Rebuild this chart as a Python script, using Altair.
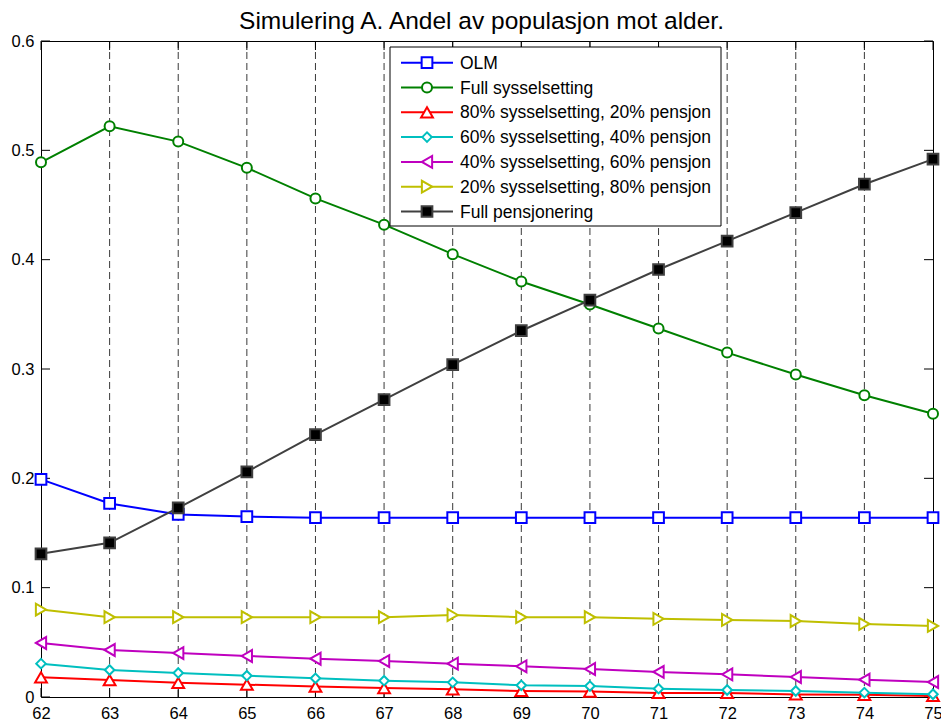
import altair as alt
import pandas as pd

# Age axis
ages = list(range(62, 76))

# Share of population per scenario, by age
olm = [0.199, 0.177, 0.167, 0.165, 0.164, 0.164, 0.164, 0.164, 0.164, 0.164, 0.164, 0.164, 0.164, 0.164]
full_syss = [0.489, 0.522, 0.508, 0.484, 0.456, 0.432, 0.405, 0.380, 0.359, 0.337, 0.315, 0.295, 0.276, 0.259]
s80_p20 = [0.018, 0.0155, 0.013, 0.0113, 0.0095, 0.0082, 0.007, 0.0055, 0.005, 0.0037, 0.0037, 0.0023, 0.002, 0.001]
s60_p40 = [0.0305, 0.0247, 0.022, 0.0195, 0.0171, 0.0149, 0.0134, 0.0107, 0.010, 0.0076, 0.0064, 0.0055, 0.004, 0.0025]
s40_p60 = [0.0494, 0.043, 0.0402, 0.0375, 0.035, 0.0329, 0.0305, 0.0281, 0.0256, 0.0229, 0.0207, 0.0183, 0.0158, 0.0137]
s20_p80 = [0.080, 0.073, 0.073, 0.073, 0.073, 0.073, 0.075, 0.073, 0.073, 0.0715, 0.0705, 0.0695, 0.0668, 0.065]
full_pens = [0.131, 0.141, 0.173, 0.206, 0.240, 0.272, 0.304, 0.335, 0.363, 0.391, 0.417, 0.443, 0.469, 0.492]

series_names = [
    "OLM",
    "Full sysselsetting",
    "80% sysselsetting, 20% pensjon",
    "60% sysselsetting, 40% pensjon",
    "40% sysselsetting, 60% pensjon",
    "20% sysselsetting, 80% pensjon",
    "Full pensjonering",
]
series_values = [olm, full_syss, s80_p20, s60_p40, s40_p60, s20_p80, full_pens]

title_text = "Simulering A. Andel av populasjon mot alder."

# Styling: line colour, marker shape, marker fill, marker stroke, marker size
styles = [
    ("#0000FF", "square", "white", "#0000FF", 115),
    ("#008000", "circle", "white", "#008000", 100),
    ("#FF0000", "triangle-up", "white", "#FF0000", 140),
    ("#00BFBF", "diamond", "white", "#00BFBF", 90),
    ("#BF00BF", "triangle-left", "white", "#BF00BF", 140),
    ("#BFBF00", "triangle-right", "white", "#BFBF00", 140),
    ("#404040", "square", "black", "#404040", 115),
]

y_ticks = [0, 0.1, 0.2, 0.3, 0.4, 0.5, 0.6]

W, H = 892, 656
FONT = "Liberation Sans"

x_enc = alt.X(
    "alder:Q",
    scale=alt.Scale(domain=[62, 75], nice=False, zero=False),
    axis=alt.Axis(values=ages, format="d", title=None, grid=False, domain=False,
                  ticks=False, labelFontSize=16.5, labelPadding=8, labelColor="black",
                  labelFont=FONT, labelFlush=False),
)
y_enc = alt.Y(
    "andel:Q",
    scale=alt.Scale(domain=[0, 0.6], nice=False, zero=False),
    axis=alt.Axis(values=y_ticks, format=".1~f", title=None, grid=False, domain=False,
                  ticks=False, labelFontSize=16.5, labelPadding=7, labelColor="black",
                  labelFont=FONT, labelFlush=False),
)

layers = []

# Dashed vertical grid lines at each age
grid_df = pd.DataFrame({"alder": ages[1:-1]})
layers.append(
    alt.Chart(grid_df).mark_rule(color="#222222", strokeWidth=0.9, strokeDash=[7, 4]).encode(
        x=x_enc, y=alt.value(0), y2=alt.value(H)
    )
)

# Inward tick marks on all four sides
xt_df = pd.DataFrame({"alder": ages})
yt_df = pd.DataFrame({"andel": y_ticks})
TL = 9
layers.append(alt.Chart(xt_df).mark_rule(color="black", strokeWidth=1).encode(
    x=x_enc, y=alt.value(0), y2=alt.value(TL)))
layers.append(alt.Chart(xt_df).mark_rule(color="black", strokeWidth=1).encode(
    x=x_enc, y=alt.value(H - TL), y2=alt.value(H)))
layers.append(alt.Chart(yt_df).mark_rule(color="black", strokeWidth=1).encode(
    y=y_enc, x=alt.value(0), x2=alt.value(TL)))
layers.append(alt.Chart(yt_df).mark_rule(color="black", strokeWidth=1).encode(
    y=y_enc, x=alt.value(W - TL), x2=alt.value(W)))

# Data series: line plus markers, drawn in order so later series sit on top
for name, vals, (col, shape, fill, stroke, size) in zip(series_names, series_values, styles):
    df = pd.DataFrame({"alder": ages, "andel": vals, "serie": name})
    base = alt.Chart(df).encode(x=x_enc, y=y_enc)
    layers.append(base.mark_line(color=col, strokeWidth=2))
    layers.append(base.mark_point(shape=shape, filled=True, fill=fill, stroke=stroke,
                                  strokeWidth=2, size=size, opacity=1))

# Legend box
one = pd.DataFrame({"k": [0]})
LX0, LX1, LY0, LY1 = 349, 680, 6, 185
layers.append(alt.Chart(one).mark_rect(fill="white", stroke="black", strokeWidth=1).encode(
    x=alt.value(LX0), x2=alt.value(LX1), y=alt.value(LY0), y2=alt.value(LY1)))

ROW0, ROWSTEP = 21.7, 24.8
for i, (name, (col, shape, fill, stroke, size)) in enumerate(zip(series_names, styles)):
    ly = ROW0 + i * ROWSTEP
    layers.append(alt.Chart(one).mark_rule(color=col, strokeWidth=2).encode(
        x=alt.value(360), x2=alt.value(412), y=alt.value(ly)))
    layers.append(alt.Chart(one).mark_point(shape=shape, filled=True, fill=fill, stroke=stroke,
                                            strokeWidth=2, size=size, opacity=1).encode(
        x=alt.value(386), y=alt.value(ly)))
    layers.append(alt.Chart(one).mark_text(align="left", baseline="middle", fontSize=17.5,
                                           font=FONT, color="black").encode(
        x=alt.value(419), y=alt.value(ly + 1), text=alt.value(name)))

# Title above the plot frame
layers.append(alt.Chart(one).mark_text(align="center", baseline="alphabetic", fontSize=24.5,
                                       font=FONT, color="black").encode(
    x=alt.value(440.5), y=alt.value(-12), text=alt.value(title_text)))

chart = alt.layer(*layers).properties(
    width=W,
    height=H,
    autosize=alt.AutoSizeParams(type="none"),
    padding={"left": 41, "top": 41, "right": 8, "bottom": 25},
    background="white",
).configure_view(stroke="black", strokeWidth=1)

chart.save("out.html", embed_options={"renderer": "svg", "actions": False})
